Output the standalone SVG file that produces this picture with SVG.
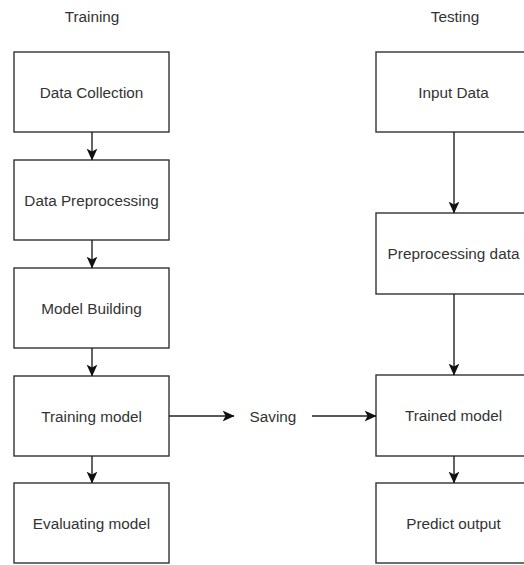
<svg xmlns="http://www.w3.org/2000/svg" width="524" height="565" viewBox="0 0 524 565">
<style>
.box{fill:#fff;stroke:#333;stroke-width:1.4}
.t{font-family:"Liberation Sans",Arial,sans-serif;font-size:15.3px;fill:#333;text-anchor:middle;dominant-baseline:central}
.c{fill:none;stroke:#222;stroke-width:1.4}
</style>
<defs>
<marker id="ah" markerUnits="userSpaceOnUse" markerWidth="12" markerHeight="12" viewBox="0 0 10 10" refX="9.5" refY="5" orient="auto">
<path d="M0,0.5 L10,5 L0,9.5 L2.5,5 z" fill="#111"/>
</marker>
</defs>
<rect width="524" height="565" fill="#fff"/>
<g id="title-training"><text class="t" x="92" y="16">Training</text></g>
<g id="title-testing"><text class="t" x="455" y="16">Testing</text></g>
<g id="data-collection"><rect class="box" x="14" y="52" width="155" height="80"/><text class="t" x="91.5" y="92">Data Collection</text></g>
<g id="data-preprocessing"><rect class="box" x="14" y="160" width="155" height="80"/><text class="t" x="91.5" y="200">Data Preprocessing</text></g>
<g id="model-building"><rect class="box" x="14" y="268" width="155" height="80"/><text class="t" x="91.5" y="308">Model Building</text></g>
<g id="training-model"><rect class="box" x="14" y="376" width="155" height="80"/><text class="t" x="91.5" y="416">Training model</text></g>
<g id="evaluating-model"><rect class="box" x="14" y="483" width="155" height="80"/><text class="t" x="91.5" y="523">Evaluating model</text></g>
<g id="input-data"><rect class="box" x="376" y="52" width="155" height="80"/><text class="t" x="453.5" y="92">Input Data</text></g>
<g id="preprocessing-data"><rect class="box" x="376" y="213" width="155" height="81"/><text class="t" x="453.5" y="253.5">Preprocessing data</text></g>
<g id="trained-model"><rect class="box" x="376" y="375" width="155" height="81"/><text class="t" x="453.5" y="415.5">Trained model</text></g>
<g id="predict-output"><rect class="box" x="376" y="483" width="155" height="80"/><text class="t" x="453.5" y="523">Predict output</text></g>
<g id="saving"><text class="t" x="273" y="416">Saving</text></g>
<g id="connectors">
<line class="c" x1="92" y1="132" x2="92" y2="160" marker-end="url(#ah)"/>
<line class="c" x1="92" y1="240" x2="92" y2="268" marker-end="url(#ah)"/>
<line class="c" x1="92" y1="348" x2="92" y2="376" marker-end="url(#ah)"/>
<line class="c" x1="92" y1="456" x2="92" y2="483" marker-end="url(#ah)"/>
<line class="c" x1="169" y1="416" x2="234" y2="416" marker-end="url(#ah)"/>
<line class="c" x1="312" y1="416" x2="376" y2="416" marker-end="url(#ah)"/>
<line class="c" x1="454" y1="132" x2="454" y2="213" marker-end="url(#ah)"/>
<line class="c" x1="454" y1="294" x2="454" y2="375" marker-end="url(#ah)"/>
<line class="c" x1="454" y1="456" x2="454" y2="483" marker-end="url(#ah)"/>
</g>
</svg>
